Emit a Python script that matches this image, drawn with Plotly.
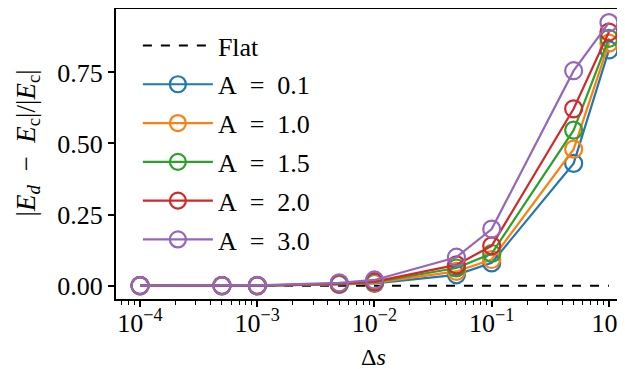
import plotly.graph_objects as go

ds = [1e-4, 5e-4, 1e-3, 5e-3, 1e-2, 5e-2, 1e-1, 5e-1, 1.0]
labels = ["A\u2002=\u20020.1", "A\u2002=\u20021.0", "A\u2002=\u20021.5", "A\u2002=\u20022.0", "A\u2002=\u20023.0"]
colors = ["#1f77b4", "#ff7f0e", "#2ca02c", "#d62728", "#9467bd"]
err_a01 = [0.0, 0.0, 0.0, 0.004, 0.008, 0.038, 0.080, 0.430, 0.829]
err_a10 = [0.0, 0.0, 0.0, 0.005, 0.010, 0.050, 0.092, 0.480, 0.853]
err_a15 = [0.0, 0.0, 0.0, 0.006, 0.012, 0.062, 0.113, 0.547, 0.870]
err_a20 = [0.0, 0.0, 0.0, 0.007, 0.014, 0.073, 0.140, 0.622, 0.892]
err_a30 = [0.0, 0.0, 0.001, 0.010, 0.020, 0.100, 0.199, 0.756, 0.925]
flat = [0.0] * len(ds)
x_exponents = [-4, -3, -2, -1, 0]
y_ticks = [0, 0.25, 0.5, 0.75]

series = [err_a01, err_a10, err_a15, err_a20, err_a30]
x_tickvals = [10.0 ** e for e in x_exponents]
x_ticktext = ["10<sup>%s</sup>" % (("−%d" % -e) if e < 0 else "%d" % e) for e in x_exponents]

FONT = "Liberation Serif"
fig = go.Figure()
fig.add_trace(go.Scatter(x=ds, y=flat, mode="lines", name="Flat",
                         line=dict(color="black", width=2, dash="dash"),
                         legendgroup="flat"))
for lab, col, vals in zip(labels, colors, series):
    fig.add_trace(go.Scatter(
        x=ds, y=vals, mode="lines+markers", name=lab, legendgroup=lab,
        line=dict(color=col, width=2.2),
        marker=dict(symbol="circle-open", size=17, color=col, line=dict(width=2.2, color=col)),
    ))

# page body has an 8px margin: figure is sized/offset to compensate
fig.update_layout(
    width=617, height=361,
    margin=dict(l=108, r=0, t=1, b=70),
    plot_bgcolor="white", paper_bgcolor="white",
    font=dict(family=FONT, size=26, color="black"),
    showlegend=True,
    legend=dict(x=0.043, y=0.955, xanchor="left", yanchor="top",
                bgcolor="rgba(255,255,255,0.8)", borderwidth=0,
                font=dict(family=FONT, size=26),
                tracegroupgap=2, traceorder="grouped", itemwidth=70),
    xaxis=dict(type="log", range=[-4.205, 0.137], automargin=False,
               tickmode="array", tickvals=x_tickvals, ticktext=x_ticktext,
               showgrid=False, zeroline=False,
               showline=True, linecolor="black", linewidth=2, mirror=True,
               ticks="outside", ticklen=6, tickwidth=1.5, tickcolor="black",
               ticklabelstandoff=-6, ticklabeloverflow="allow",
               minor=dict(ticks="outside", ticklen=3.5, tickwidth=1, tickcolor="black", dtick="D1", showgrid=False),
               tickfont=dict(family=FONT, size=26)),
    yaxis=dict(range=[-0.047, 0.973], tickvals=y_ticks, automargin=False,
               ticktext=["%.2f" % v for v in y_ticks],
               showgrid=False, zeroline=False,
               showline=True, linecolor="black", linewidth=2, mirror=False,
               ticks="outside", ticklen=6, tickwidth=1.5, tickcolor="black",
               tickfont=dict(family=FONT, size=26)),
    annotations=[
        dict(text="|<i>E<sub>d</sub></i>\u2002−\u2002<i>E</i><sub>c</sub>|/|<i>E</i><sub>c</sub>|",
             xref="paper", yref="paper", x=0, y=0.502, xshift=-88, yshift=10, textangle=-90,
             xanchor="center", yanchor="middle", showarrow=False,
             font=dict(family=FONT, size=27)),
        dict(text="Δ<i>s</i>", xref="paper", yref="paper", x=0.505, y=0, yshift=-58,
             xanchor="center", yanchor="middle", showarrow=False,
             font=dict(family=FONT, size=24)),
    ],
)
fig.write_html("out.html")
